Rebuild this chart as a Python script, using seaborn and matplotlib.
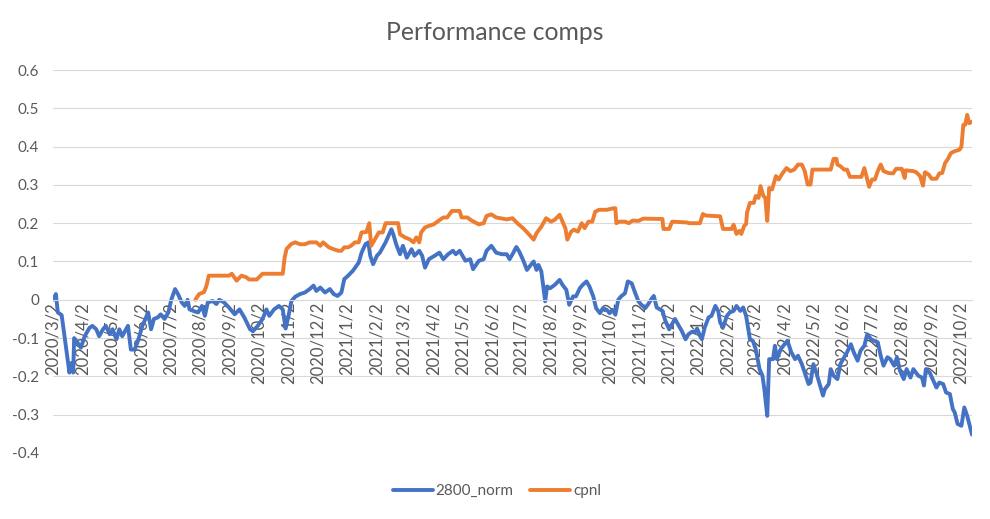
import pandas as pd
import matplotlib
matplotlib.use("Agg")
import matplotlib.pyplot as plt
import seaborn as sns

# data
blue_dates = [
    "2020-03-02", "2020-03-05", "2020-03-07", "2020-03-11", "2020-03-14", "2020-03-18", "2020-03-19",
    "2020-03-21", "2020-03-23", "2020-03-24", "2020-03-27", "2020-03-31", "2020-04-04", "2020-04-09",
    "2020-04-12", "2020-04-16", "2020-04-19", "2020-04-23", "2020-04-26", "2020-04-30", "2020-05-03",
    "2020-05-07", "2020-05-10", "2020-05-13", "2020-05-19", "2020-05-22", "2020-05-26", "2020-05-29",
    "2020-06-03", "2020-06-09", "2020-06-12", "2020-06-15", "2020-06-19", "2020-06-22", "2020-06-26",
    "2020-06-30", "2020-07-03", "2020-07-07", "2020-07-10", "2020-07-14", "2020-07-17", "2020-07-20",
    "2020-07-22", "2020-07-27", "2020-07-31", "2020-08-04", "2020-08-07", "2020-08-10", "2020-08-15",
    "2020-08-19", "2020-08-22", "2020-08-27", "2020-09-01", "2020-09-07", "2020-09-12", "2020-09-17",
    "2020-09-23", "2020-09-26", "2020-10-01", "2020-10-06", "2020-10-10", "2020-10-13", "2020-10-18",
    "2020-10-23", "2020-10-27", "2020-10-30", "2020-11-02", "2020-11-05", "2020-11-09", "2020-11-14",
    "2020-11-19", "2020-11-24", "2020-11-28", "2020-12-01", "2020-12-05", "2020-12-10", "2020-12-15",
    "2020-12-19", "2020-12-23", "2020-12-27", "2020-12-30", "2021-01-03", "2021-01-08", "2021-01-14",
    "2021-01-17", "2021-01-21", "2021-01-24", "2021-01-26", "2021-01-29", "2021-02-02", "2021-02-05",
    "2021-02-11", "2021-02-14", "2021-02-17", "2021-02-19", "2021-02-22", "2021-02-26", "2021-03-01",
    "2021-03-05", "2021-03-10", "2021-03-13", "2021-03-18", "2021-03-21", "2021-03-24", "2021-03-28",
    "2021-04-03", "2021-04-08", "2021-04-12", "2021-04-17", "2021-04-22", "2021-04-25", "2021-04-29",
    "2021-05-05", "2021-05-10", "2021-05-13", "2021-05-19", "2021-05-24", "2021-05-27", "2021-06-01",
    "2021-06-06", "2021-06-12", "2021-06-17", "2021-06-20", "2021-06-23", "2021-06-27", "2021-06-30",
    "2021-07-04", "2021-07-08", "2021-07-12", "2021-07-15", "2021-07-18", "2021-07-20", "2021-07-23",
    "2021-07-25", "2021-07-27", "2021-07-29", "2021-08-01", "2021-08-06", "2021-08-11", "2021-08-14",
    "2021-08-18", "2021-08-21", "2021-08-25", "2021-08-28", "2021-09-01", "2021-09-04", "2021-09-08",
    "2021-09-11", "2021-09-15", "2021-09-18", "2021-09-22", "2021-09-25", "2021-09-29", "2021-10-02",
    "2021-10-05", "2021-10-08", "2021-10-11", "2021-10-14", "2021-10-18", "2021-10-21", "2021-10-25",
    "2021-10-28", "2021-11-01", "2021-11-04", "2021-11-08", "2021-11-11", "2021-11-15", "2021-11-17",
    "2021-11-20", "2021-11-26", "2021-11-29", "2021-12-03", "2021-12-06", "2021-12-09", "2021-12-13",
    "2021-12-16", "2021-12-20", "2021-12-23", "2021-12-27", "2021-12-30", "2022-01-01", "2022-01-04",
    "2022-01-06", "2022-01-09", "2022-01-13", "2022-01-16", "2022-01-20", "2022-01-23", "2022-01-25",
    "2022-01-28", "2022-02-01", "2022-02-04", "2022-02-08", "2022-02-11", "2022-02-15", "2022-02-18",
    "2022-02-21", "2022-02-25", "2022-02-28", "2022-03-03", "2022-03-07", "2022-03-10", "2022-03-12",
    "2022-03-15", "2022-03-17", "2022-03-21", "2022-03-23", "2022-03-25", "2022-03-29", "2022-04-02",
    "2022-04-05", "2022-04-09", "2022-04-13", "2022-04-16", "2022-04-20", "2022-04-23", "2022-04-27",
    "2022-04-29", "2022-05-02", "2022-05-05", "2022-05-09", "2022-05-12", "2022-05-14", "2022-05-18",
    "2022-05-20", "2022-05-23", "2022-05-27", "2022-05-30", "2022-06-03", "2022-06-06", "2022-06-10",
    "2022-06-13", "2022-06-17", "2022-06-20", "2022-06-24", "2022-06-27", "2022-07-01", "2022-07-04",
    "2022-07-08", "2022-07-11", "2022-07-14", "2022-07-18", "2022-07-21", "2022-07-25", "2022-07-28",
    "2022-07-31", "2022-08-04", "2022-08-07", "2022-08-11", "2022-08-14", "2022-08-19", "2022-08-23",
    "2022-08-25", "2022-08-27", "2022-08-31", "2022-09-03", "2022-09-07", "2022-09-10", "2022-09-14",
    "2022-09-17", "2022-09-21", "2022-09-24", "2022-09-26", "2022-09-29", "2022-10-03", "2022-10-06",
    "2022-10-09", "2022-10-14",
]
blue_values = [
    0.0, 0.015, -0.033, -0.04, -0.095, -0.17, -0.19,
    -0.165, -0.19, -0.10, -0.11, -0.125, -0.095, -0.073,
    -0.068, -0.077, -0.095, -0.077, -0.068, -0.09, -0.077,
    -0.103, -0.077, -0.095, -0.068, -0.13, -0.13, -0.11,
    -0.068, -0.033, -0.077, -0.05, -0.046, -0.038, -0.05,
    -0.033, 0.0, 0.028, 0.015, -0.007, -0.016, 0.0,
    -0.025, -0.03, -0.033, -0.016, -0.042, -0.007, -0.003,
    -0.011, 0.0, -0.007, -0.02, -0.038, -0.025, -0.046,
    -0.077, -0.082, -0.068, -0.05, -0.025, -0.042, -0.025,
    -0.016, -0.025, -0.075, -0.042, -0.003, 0.008, 0.015,
    0.019, 0.028, 0.037, 0.023, 0.032, 0.019, 0.028,
    0.015, 0.01, 0.019, 0.054, 0.063, 0.076, 0.097,
    0.123, 0.145, 0.15, 0.115, 0.093, 0.115, 0.123,
    0.15, 0.167, 0.184, 0.171, 0.145, 0.119, 0.141,
    0.11, 0.132, 0.115, 0.128, 0.115, 0.084, 0.106,
    0.115, 0.123, 0.106, 0.119, 0.128, 0.119, 0.128,
    0.102, 0.106, 0.08, 0.102, 0.106, 0.128, 0.141,
    0.123, 0.119, 0.119, 0.106, 0.119, 0.138, 0.126,
    0.104, 0.078, 0.091, 0.1, 0.078, 0.091, 0.074,
    0.035, -0.004, 0.035, 0.03, 0.039, 0.052, 0.039,
    0.026, -0.013, 0.009, 0.009, 0.03, 0.039, 0.048,
    0.035, 0.009, -0.022, -0.035, -0.022, -0.026, -0.035,
    -0.026, -0.039, 0.0, 0.009, 0.017, 0.048, 0.043,
    0.022, -0.004, -0.013, -0.022, -0.012, 0.004, 0.01,
    -0.02, -0.029, -0.055, -0.077, -0.063, -0.05, -0.068,
    -0.081, -0.103, -0.09, -0.083, -0.085, -0.075, -0.094,
    -0.103, -0.072, -0.046, -0.042, -0.016, -0.029, -0.059,
    -0.072, -0.042, -0.033, -0.029, -0.016, -0.029, -0.02,
    -0.042, -0.103, -0.107, -0.129, -0.181, -0.198, -0.233,
    -0.303, -0.155, -0.155, -0.12, -0.155, -0.129, -0.116,
    -0.107, -0.137, -0.155, -0.146, -0.168, -0.19, -0.22,
    -0.216, -0.168, -0.19, -0.224, -0.25, -0.233, -0.22,
    -0.181, -0.198, -0.207, -0.168, -0.15, -0.137, -0.116,
    -0.137, -0.159, -0.133, -0.12, -0.09, -0.103, -0.107,
    -0.111, -0.146, -0.172, -0.15, -0.155, -0.172, -0.15,
    -0.185, -0.207, -0.181, -0.203, -0.181, -0.198, -0.203,
    -0.224, -0.181, -0.19, -0.207, -0.229, -0.216, -0.22,
    -0.242, -0.246, -0.285, -0.294, -0.324, -0.329, -0.281,
    -0.303, -0.352,
]

orange_dates = [
    "2020-07-28", "2020-08-01", "2020-08-06", "2020-08-08", "2020-08-09", "2020-08-11", "2020-08-19",
    "2020-09-01", "2020-09-04", "2020-09-09", "2020-09-14", "2020-09-19", "2020-09-22", "2020-09-30",
    "2020-10-06", "2020-10-27", "2020-10-29", "2020-10-31", "2020-11-05", "2020-11-09", "2020-11-14",
    "2020-11-19", "2020-11-24", "2020-12-01", "2020-12-05", "2020-12-08", "2020-12-14", "2020-12-19",
    "2020-12-24", "2020-12-27", "2020-12-30", "2021-01-03", "2021-01-06", "2021-01-10", "2021-01-14",
    "2021-01-17", "2021-01-22", "2021-01-25", "2021-01-27", "2021-02-01", "2021-02-04", "2021-02-08",
    "2021-02-11", "2021-02-24", "2021-02-26", "2021-03-03", "2021-03-08", "2021-03-12", "2021-03-15",
    "2021-03-18", "2021-03-20", "2021-03-24", "2021-03-28", "2021-04-02", "2021-04-07", "2021-04-12",
    "2021-04-16", "2021-04-21", "2021-04-29", "2021-05-01", "2021-05-07", "2021-05-12", "2021-05-19",
    "2021-05-24", "2021-05-27", "2021-06-01", "2021-06-06", "2021-06-17", "2021-06-23", "2021-06-28",
    "2021-07-04", "2021-07-09", "2021-07-15", "2021-07-18", "2021-07-23", "2021-07-28", "2021-08-02",
    "2021-08-06", "2021-08-11", "2021-08-14", "2021-08-17", "2021-08-19", "2021-08-23", "2021-08-26",
    "2021-08-30", "2021-09-03", "2021-09-06", "2021-09-10", "2021-09-14", "2021-09-17", "2021-09-21",
    "2021-09-29", "2021-10-06", "2021-10-08", "2021-10-09", "2021-10-12", "2021-10-18", "2021-10-22",
    "2021-10-26", "2021-11-01", "2021-11-06", "2021-11-26", "2021-11-27", "2021-12-03", "2021-12-06",
    "2021-12-21", "2021-12-24", "2022-01-04", "2022-01-07", "2022-01-10", "2022-01-25", "2022-01-28",
    "2022-02-06", "2022-02-08", "2022-02-11", "2022-02-14", "2022-02-16", "2022-02-19", "2022-02-21",
    "2022-02-22", "2022-02-25", "2022-03-01", "2022-03-03", "2022-03-06", "2022-03-08", "2022-03-11",
    "2022-03-13", "2022-03-15", "2022-03-17", "2022-03-20", "2022-03-24", "2022-03-27", "2022-03-30",
    "2022-04-04", "2022-04-08", "2022-04-12", "2022-04-16", "2022-04-20", "2022-04-23", "2022-04-26",
    "2022-04-29", "2022-05-01", "2022-05-20", "2022-05-23", "2022-05-26", "2022-05-27", "2022-05-30",
    "2022-06-03", "2022-06-06", "2022-06-09", "2022-06-21", "2022-06-24", "2022-06-27", "2022-06-29",
    "2022-07-02", "2022-07-05", "2022-07-08", "2022-07-11", "2022-07-14", "2022-07-19", "2022-07-24",
    "2022-07-27", "2022-08-02", "2022-08-05", "2022-08-06", "2022-08-14", "2022-08-17", "2022-08-21",
    "2022-08-24", "2022-08-26", "2022-08-30", "2022-09-02", "2022-09-07", "2022-09-10", "2022-09-13",
    "2022-09-16", "2022-09-19", "2022-09-22", "2022-09-26", "2022-10-01", "2022-10-03", "2022-10-05",
    "2022-10-07", "2022-10-09", "2022-10-11", "2022-10-14",
]
orange_values = [
    0.0, 0.015, 0.02, 0.032, 0.04, 0.063, 0.063,
    0.063, 0.068, 0.05, 0.063, 0.059, 0.053, 0.053,
    0.068, 0.068, 0.111, 0.133, 0.146, 0.15, 0.145,
    0.145, 0.15, 0.15, 0.141, 0.15, 0.137, 0.132,
    0.128, 0.128, 0.137, 0.137, 0.141, 0.15, 0.15,
    0.176, 0.177, 0.2, 0.141, 0.163, 0.176, 0.176,
    0.2, 0.2, 0.171, 0.163, 0.158, 0.15, 0.163,
    0.15, 0.176, 0.189, 0.193, 0.197, 0.206, 0.215,
    0.215, 0.232, 0.232, 0.215, 0.215, 0.206, 0.197,
    0.2, 0.219, 0.223, 0.215, 0.21, 0.213, 0.2,
    0.187, 0.174, 0.157, 0.174, 0.191, 0.213, 0.204,
    0.209, 0.222, 0.204, 0.187, 0.157, 0.178, 0.183,
    0.178, 0.2, 0.187, 0.204, 0.204, 0.23, 0.235,
    0.235, 0.239, 0.239, 0.2, 0.204, 0.204, 0.2,
    0.207, 0.206, 0.212, 0.211, 0.185, 0.185, 0.204,
    0.202, 0.2, 0.2, 0.224, 0.22, 0.218, 0.185,
    0.185, 0.196, 0.172, 0.18, 0.172, 0.193, 0.198,
    0.228, 0.253, 0.253, 0.271, 0.266, 0.297, 0.271,
    0.266, 0.206, 0.292, 0.288, 0.323, 0.314, 0.327,
    0.344, 0.336, 0.34, 0.353, 0.353, 0.336, 0.301,
    0.301, 0.34, 0.34, 0.368, 0.368, 0.353, 0.349,
    0.34, 0.34, 0.321, 0.321, 0.344, 0.314, 0.295,
    0.314, 0.314, 0.336, 0.353, 0.336, 0.331, 0.33,
    0.342, 0.342, 0.318, 0.338, 0.336, 0.333, 0.323,
    0.298, 0.333, 0.327, 0.316, 0.316, 0.33, 0.331,
    0.357, 0.368, 0.383, 0.388, 0.392, 0.4, 0.457,
    0.457, 0.483, 0.461, 0.465,
]

tick_labels = [
    "2020/3/2", "2020/4/2", "2020/5/2", "2020/6/2", "2020/7/2", "2020/8/2", "2020/9/2",
    "2020/10/2", "2020/11/2", "2020/12/2", "2021/1/2", "2021/2/2", "2021/3/2", "2021/4/2",
    "2021/5/2", "2021/6/2", "2021/7/2", "2021/8/2", "2021/9/2", "2021/10/2", "2021/11/2",
    "2021/12/2", "2022/1/2", "2022/2/2", "2022/3/2", "2022/4/2", "2022/5/2", "2022/6/2",
    "2022/7/2", "2022/8/2", "2022/9/2", "2022/10/2",
]
y_ticks = [-0.4, -0.3, -0.2, -0.1, 0, 0.1, 0.2, 0.3, 0.4, 0.5, 0.6]

blue_df = pd.DataFrame({"date": pd.to_datetime(blue_dates), "value": blue_values})
orange_df = pd.DataFrame({"date": pd.to_datetime(orange_dates), "value": orange_values})
tick_dates = pd.to_datetime(tick_labels, format="%Y/%m/%d")

sns.set_style("white")
plt.rcParams["font.family"] = ["Lato", "DejaVu Sans"]
text_col = "#595959"
grid_col = "#D9D9D9"

fig = plt.figure(figsize=(9.9, 5.19), dpi=100)
ax = fig.add_axes([53 / 990, 1 - 453 / 519, (972 - 53) / 990, (453 - 70) / 519])

sns.lineplot(data=blue_df, x="date", y="value", color="#4472C4", linewidth=2.8,
             label="2800_norm", estimator=None, ax=ax)
sns.lineplot(data=orange_df, x="date", y="value", color="#ED7D31", linewidth=2.8,
             label="cpnl", estimator=None, ax=ax)

ax.set_ylim(-0.4, 0.6)
ax.set_xlim(pd.Timestamp("2020-03-02"), pd.Timestamp("2022-10-14"))
ax.set_yticks(y_ticks)
ax.set_yticklabels([("%g" % v) for v in y_ticks])
ax.set_xticks(tick_dates)
ax.set_xticklabels(tick_labels)
ax.set_xlabel("")
ax.set_ylabel("")

ax.grid(axis="y", color=grid_col, linewidth=0.8)
ax.set_axisbelow(True)
for s in ["top", "right", "left"]:
    ax.spines[s].set_visible(False)
ax.spines["bottom"].set_position(("data", 0))
ax.spines["bottom"].set_color(grid_col)
ax.spines["bottom"].set_linewidth(0.8)

ax.tick_params(axis="y", length=0, pad=10, labelsize=11, labelcolor=text_col)
ax.tick_params(axis="x", direction="out", length=3.6, width=0.8, color=grid_col,
               pad=-2, labelsize=12, labelcolor=text_col, labelrotation=90)
plt.setp(ax.get_xticklabels(), rotation=90, ha="center", va="top", rotation_mode="default")

fig.suptitle("Performance comps", x=0.5, y=1 - 33 / 519, va="center",
             fontsize=17.8, color=text_col)

ax.legend(loc="center", bbox_to_anchor=(0.502, 1 - 491 / 519), bbox_transform=fig.transFigure,
          ncol=2, frameon=False, fontsize=11, handlelength=2.6, handletextpad=0.2,
          columnspacing=1.1, labelcolor=text_col)

fig.savefig("out.png", dpi=100)
